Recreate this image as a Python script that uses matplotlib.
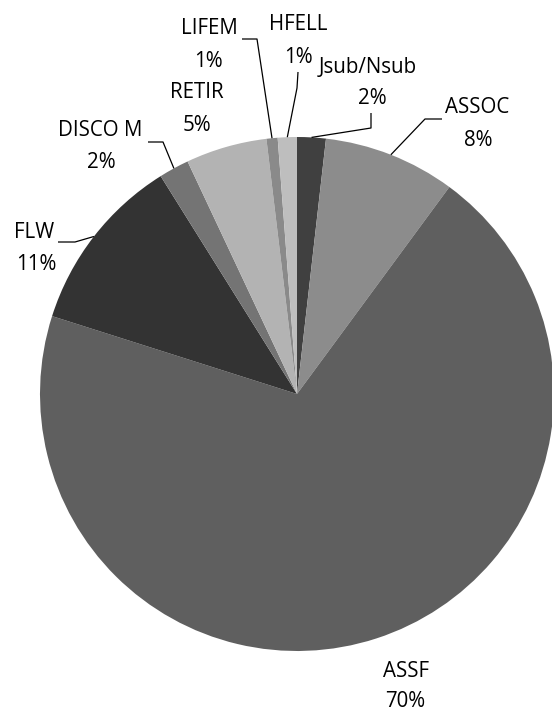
import matplotlib
matplotlib.use('Agg')
import matplotlib.pyplot as plt
import numpy as np

plt.rcParams['font.family'] = ['Open Sans', 'DejaVu Sans']

# ── Data ──────────────────────────────────────────────────────────
labels = ['Jsub/Nsub', 'ASSOC', 'ASSF', 'FLW', 'DISCO M', 'RETIR', 'LIFEM', 'HFELL']
shares = [1.8, 8.3, 69.8, 11.2, 1.9, 5.1, 0.7, 1.2]
colors = ['#404040', '#8c8c8c', '#5f5f5f', '#333333', '#747474', '#b3b3b3', '#8a8a8a', '#bebebe']

# label block centres (pixel coords): name line, pct line
name_pos = [(368, 65), (477, 105), (406, 669), (34, 230), (100, 128), (197, 90), (209, 26), (298, 22)]
pct_pos = [(372, 96), (478, 138), (405, 699), (36, 262), (101, 160), (197, 123), (208, 59), (298, 55)]
# leader lines: start + elbow, ends on the wedge rim (None = no leader)
leaders = [[(371, 113), (371, 128)], [(442, 119), (425, 119)], None,
           [(58, 242), (75, 242)], [(148, 142), (163, 142)], None,
           [(242, 39), (257, 39)], [(298, 72), (297, 88)]]

W, H = 552, 711
CX, CY, R = 297, 394, 257

fig = plt.figure(figsize=(W / 100, H / 100), dpi=100)
ax = fig.add_axes([0, 0, 1, 1])

# y axis is inverted (pixel style), so counterclock + start -90 draws clockwise from 12 o'clock
wedges, _ = ax.pie(shares, colors=colors, startangle=-90, counterclock=True,
                   center=(CX, CY), radius=R, wedgeprops=dict(linewidth=0))

ax.set_xlim(0, W)
ax.set_ylim(H, 0)
ax.set_aspect('equal')
ax.axis('off')

FS = 14.8
for i, w in enumerate(wedges):
    nx, ny = name_pos[i]
    px, py = pct_pos[i]
    ax.text(nx, ny, labels[i], ha='center', va='center_baseline', fontsize=FS, color='black')
    ax.text(px, py, '%d%%' % round(shares[i]), ha='center', va='center_baseline',
            fontsize=FS, color='black')
    if leaders[i] is not None:
        th = np.deg2rad((w.theta1 + w.theta2) / 2)
        ex, ey = CX + R * np.cos(th), CY + R * np.sin(th)
        pts = leaders[i] + [(ex, ey)]
        xs = [p[0] for p in pts]
        ys = [p[1] for p in pts]
        ax.plot(xs, ys, color='black', linewidth=0.9, solid_capstyle='butt')

fig.savefig('out.png', dpi=100)
plt.close()
